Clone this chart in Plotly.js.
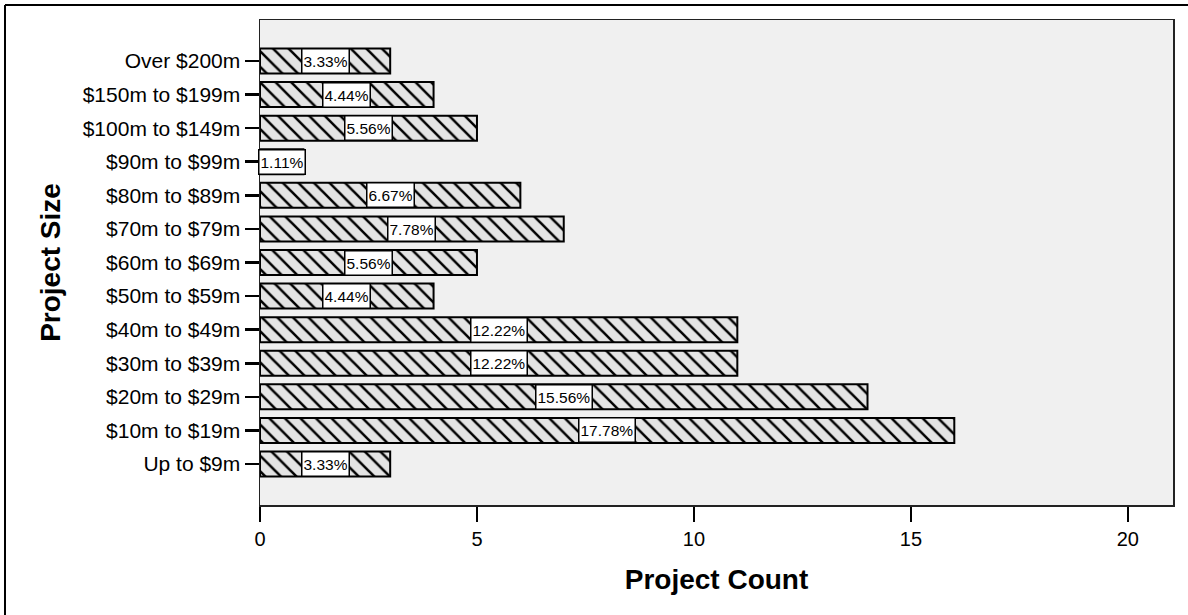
<!DOCTYPE html>
<html>
<head>
<meta charset="utf-8">
<script src="https://cdn.plot.ly/plotly-3.0.1.min.js"></script>
<style>
  html, body { margin: 0; padding: 0; background: #ffffff; }
  #chart { width: 1188px; height: 615px; }
</style>
</head>
<body>
<div id="chart"></div>
<script>
const categories = [
  "Up to $9m", "$10m to $19m", "$20m to $29m", "$30m to $39m", "$40m to $49m",
  "$50m to $59m", "$60m to $69m", "$70m to $79m", "$80m to $89m", "$90m to $99m",
  "$100m to $149m", "$150m to $199m", "Over $200m"
];
const counts = [3, 16, 14, 11, 11, 4, 5, 7, 6, 1, 5, 4, 3];
const percentLabels = [
  "3.33%", "17.78%", "15.56%", "12.22%", "12.22%", "4.44%", "5.56%",
  "7.78%", "6.67%", "1.11%", "5.56%", "4.44%", "3.33%"
];
const xTicks = [0, 5, 10, 15, 20];

const FONT = '"Liberation Sans", Arial, Helvetica, sans-serif';

const trace = {
  type: 'bar',
  orientation: 'h',
  y: categories,
  x: counts,
  marker: {
    color: '#e4e4e4',
    line: { color: '#000000', width: 2 },
    pattern: { shape: '\\', fgcolor: '#000000', bgcolor: '#e4e4e4', size: 11, solidity: 0.23 }
  },
  hoverinfo: 'skip'
};

const annotations = categories.map((c, i) => ({
  x: counts[i] / 2,
  y: c,
  xref: 'x',
  yref: 'y',
  text: percentLabels[i],
  showarrow: false,
  font: { family: FONT, size: 15.5, color: '#000000' },
  bgcolor: '#ffffff',
  bordercolor: '#000000',
  borderwidth: 1.5,
  borderpad: 1,
  height: 21
}));

const layout = {
  width: 1188,
  height: 615,
  margin: { l: 260, r: 15, t: 20, b: 110, pad: 0 },
  paper_bgcolor: '#ffffff',
  plot_bgcolor: '#f0f0f0',
  showlegend: false,
  bargap: 0.255,
  font: { family: FONT, color: '#000000' },
  xaxis: {
    range: [0, 21.04],
    tickvals: xTicks,
    ticktext: xTicks.map(String),
    ticks: 'outside',
    ticklen: 15,
    tickwidth: 2.5,
    tickcolor: '#000000',
    tickfont: { family: FONT, size: 20, color: '#000000' },
    showgrid: false,
    zeroline: false,
    showline: true,
    mirror: true,
    linecolor: '#222222',
    linewidth: 1.5,
    automargin: false,
    title: { text: 'Project Count', font: { family: FONT, size: 28, color: '#000000', weight: 'bold' }, standoff: 21 }
  },
  yaxis: {
    type: 'category',
    categoryorder: 'array',
    categoryarray: categories,
    range: [-1.22, 13.22],
    ticks: 'outside',
    ticklen: 14,
    tickwidth: 2.5,
    tickcolor: '#000000',
    tickfont: { family: FONT, size: 21, color: '#000000' },
    showgrid: false,
    zeroline: false,
    showline: true,
    mirror: true,
    linecolor: '#222222',
    linewidth: 1.5,
    automargin: false,
    title: { text: 'Project Size', font: { family: FONT, size: 28, color: '#000000', weight: 'bold' }, standoff: 14 }
  },
  annotations: annotations,
  shapes: [
    { type: 'line', xref: 'paper', yref: 'paper', x0: -0.2793, x1: 1.02, y0: 1.0309, y1: 1.0309, line: { color: '#000000', width: 2 } },
    { type: 'line', xref: 'paper', yref: 'paper', x0: -0.2793, x1: -0.2793, y0: 1.0309, y1: -0.23, line: { color: '#000000', width: 2 } }
  ]
};

Plotly.newPlot('chart', [trace], layout, { displayModeBar: false, staticPlot: true });
</script>
</body>
</html>
